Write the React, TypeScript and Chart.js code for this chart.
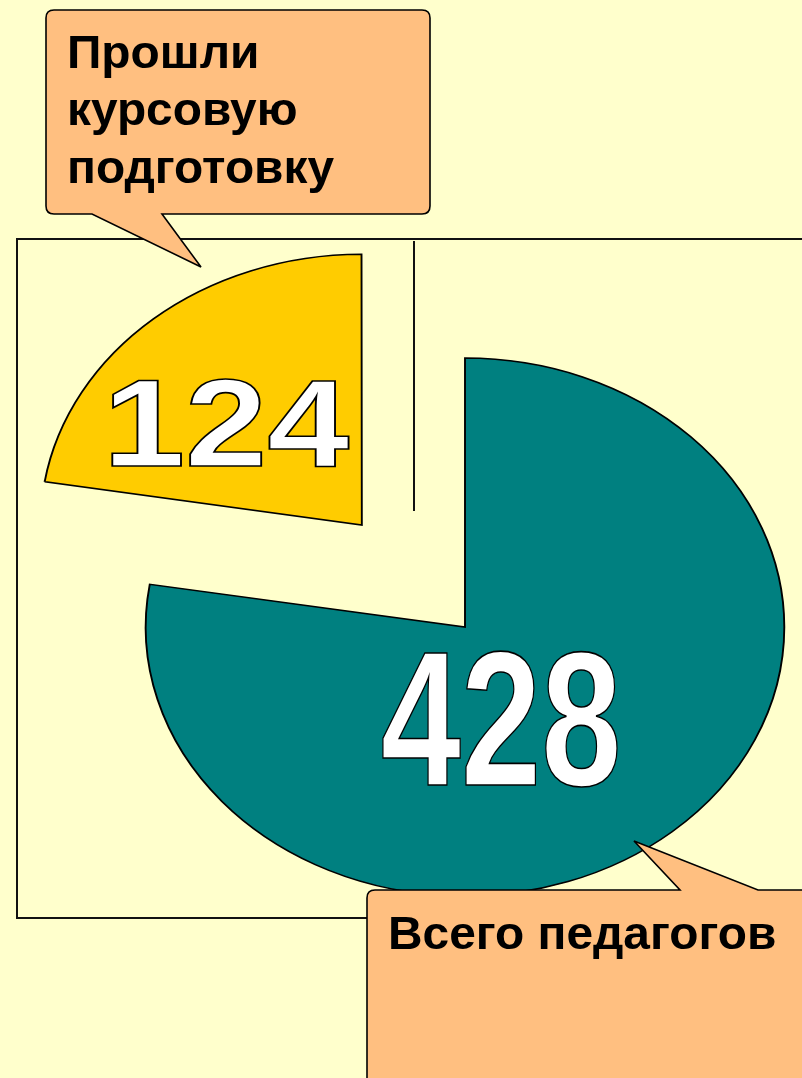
import React, { useEffect, useRef } from 'react';
import { Chart, registerables } from 'chart.js';

Chart.register(...registerables);

// ---- data ----
const categories = ['Всего педагогов', 'Прошли курсовую подготовку'];
const values = [428, 124];
const valueLabels = ['428', '124'];
const sliceColors = ['#008080', '#FFCC00'];
const explode = [0, 536];
const calloutTop = ['Прошли', 'курсовую', 'подготовку'];
const calloutBottom = ['Всего педагогов'];

// ---- layout / style ----
const W = 802;
const H = 1078;
const CX = 465;
const CY = 627;
const RADIUS = 269;
const STRETCH_X = 1.187;
const FONT = '"Liberation Sans", Arial, Helvetica, sans-serif';
const TEXT_SX = 1.04;
const LABEL_STYLE = [
  { dx: 0.113, dy: 0.335, size: 191, scaleX: 0.755 },
  { dx: -0.425, dy: -0.383, size: 124, scaleX: 1.19 },
];

const stretchPlugin = {
  id: 'stretchPie',
  beforeDatasetsDraw(chart: any) {
    const ctx = chart.ctx;
    const arc = chart.getDatasetMeta(0).data[0];
    ctx.save();
    ctx.translate(arc.x, 0);
    ctx.scale(STRETCH_X, 1);
    ctx.translate(-arc.x, 0);
  },
  afterDatasetsDraw(chart: any) {
    const ctx = chart.ctx;
    ctx.restore();
    const meta = chart.getDatasetMeta(0);
    meta.data.forEach((arc: any, i: number) => {
      const p = arc.getProps(['x', 'y', 'startAngle', 'endAngle', 'outerRadius'], true);
      const off = (arc.options.offset || 0) / 4;
      const half = (p.startAngle + p.endAngle) / 2;
      const ax = p.x + Math.cos(half) * off;
      const ay = p.y + Math.sin(half) * off;
      const st = LABEL_STYLE[i];
      const lx = ax + st.dx * p.outerRadius;
      const ly = ay + st.dy * p.outerRadius;
      const X = p.x + (lx - p.x) * STRETCH_X;
      const Y = ly + (0.716 * st.size) / 2;
      ctx.save();
      ctx.translate(X, Y);
      ctx.scale(st.scaleX, 1);
      ctx.font = `bold ${st.size}px ${FONT}`;
      ctx.textAlign = 'center';
      ctx.textBaseline = 'alphabetic';
      ctx.fillStyle = '#FFFFFF';
      ctx.fillText(valueLabels[i], 0, 0);
      ctx.lineWidth = 1.6;
      ctx.strokeStyle = '#000000';
      ctx.lineJoin = 'miter';
      ctx.strokeText(valueLabels[i], 0, 0);
      ctx.restore();
    });
  },
};

export default function App() {
  const ref = useRef<HTMLCanvasElement | null>(null);

  useEffect(() => {
    if (!ref.current) return;
    const chart = new Chart(ref.current, {
      type: 'pie',
      data: {
        labels: categories,
        datasets: [
          {
            data: values,
            backgroundColor: sliceColors,
            borderColor: '#000000',
            borderWidth: 1.6,
            borderJoinStyle: 'miter',
            offset: explode,
          } as any,
        ],
      },
      options: {
        animation: false,
        responsive: false,
        maintainAspectRatio: false,
        radius: RADIUS,
        layout: { padding: { left: 2 * CX - W, top: 2 * CY - H, right: 0, bottom: 0 } },
        plugins: { legend: { display: false }, tooltip: { enabled: false }, title: { display: false } },
        events: [],
      } as any,
      plugins: [stretchPlugin],
    });
    return () => chart.destroy();
  }, []);

  const topPath =
    'M54,10 L422,10 Q430,10 430,18 L430,206 Q430,214 422,214 L162,214 L201,267 L92,214 L54,214 Q46,214 46,206 L46,18 Q46,10 54,10 Z';
  const bottomPath = 'M375,890 L680,890 L634,841 L758,890 L812,890 L812,1090 L367,1090 L367,898 Q367,890 375,890 Z';

  return (
    <div style={{ position: 'fixed', left: 0, top: 0, width: W, height: H, background: '#FFFFCC', overflow: 'hidden' }}>
      <div
        style={{
          position: 'absolute',
          left: 16,
          top: 238,
          width: 820,
          height: 681,
          border: '2px solid #111',
          boxSizing: 'border-box',
        }}
      />
      <div style={{ position: 'absolute', left: 413, top: 241, width: 2, height: 270, background: '#111' }} />
      <canvas ref={ref} width={W} height={H} style={{ position: 'absolute', left: 0, top: 0 }} />
      <svg width={W} height={H} style={{ position: 'absolute', left: 0, top: 0 }}>
        <path d={topPath} fill="#FFBF80" stroke="#000" strokeWidth={1.6} strokeLinejoin="miter" />
        <path d={bottomPath} fill="#FFBF80" stroke="#000" strokeWidth={1.6} strokeLinejoin="miter" />
        {calloutTop.map((t, i) => (
          <text
            key={i}
            x={0}
            y={68 + i * 57.5}
            transform={`translate(67,0) scale(${TEXT_SX},1)`}
            fontFamily={FONT}
            fontWeight="bold"
            fontSize={46}
            fill="#000"
          >
            {t}
          </text>
        ))}
        {calloutBottom.map((t, i) => (
          <text
            key={i}
            x={0}
            y={949}
            transform={`translate(388,0) scale(${TEXT_SX},1)`}
            fontFamily={FONT}
            fontWeight="bold"
            fontSize={46}
            fill="#000"
          >
            {t}
          </text>
        ))}
      </svg>
    </div>
  );
}
